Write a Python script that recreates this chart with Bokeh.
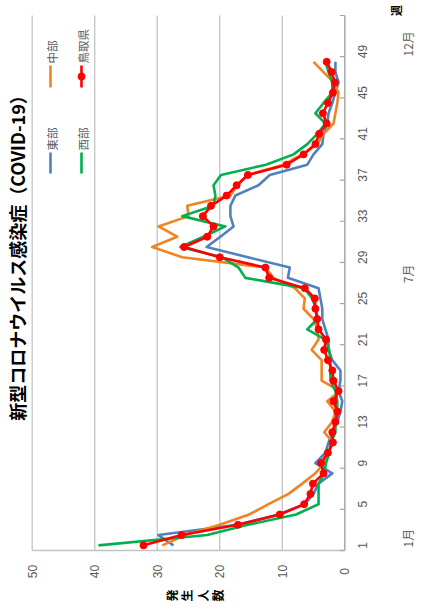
import math
from bokeh.plotting import figure
from bokeh.models import Range1d, Label, LabelSet, ColumnDataSource
from bokeh.embed import file_html
from bokeh.resources import INLINE
from bokeh.core.properties import value

# ---------------- data ----------------
weeks = list(range(1, 49))
east = [27.4, 29.8, 17.2, 10.6, 6.4, 5.0, 4.2, 2.0, 4.7, 3.1, 2.6, 2.0, 1.2, 0.7, 0.4, 1.0,
        0.7, 0.7, 2.0, 2.6, 2.6, 3.1, 3.6, 3.6, 3.9, 4.2, 9.1, 8.8, 15.5, 22.1, 19.9, 17.8,
        18.3, 18.3, 17.5, 13.8, 12.0, 6.0, 5.0, 3.6, 3.4, 2.8, 2.6, 2.0, 1.5, 1.0, 1.5, 1.5]
central = [29.2, 25.5, 20.0, 15.3, 12.2, 9.0, 6.8, 4.7, 3.3, 2.6, 1.9, 3.3, 2.0, 1.5, 2.8, 0.8,
           3.7, 3.7, 3.7, 5.3, 4.2, 4.4, 5.0, 6.6, 6.4, 8.0, 11.4, 12.7, 26.0, 30.8, 26.8, 29.8,
           25.0, 25.2, 18.3, 17.2, 15.5, 9.8, 6.8, 4.4, 3.4, 1.8, 1.5, 1.2, 1.0, 1.8, 3.4, 5.0]
west = [39.4, 22.0, 15.5, 7.8, 4.2, 4.2, 4.2, 3.3, 3.0, 2.5, 2.2, 1.5, 1.5, 1.2, 1.2, 1.5,
        2.3, 2.3, 2.3, 2.5, 3.1, 6.0, 4.4, 4.6, 5.2, 6.5, 15.9, 17.0, 19.6, 26.3, 22.6, 19.1,
        26.0, 21.0, 20.7, 21.0, 19.8, 12.6, 8.2, 6.0, 4.4, 3.1, 4.7, 3.4, 2.0, 2.0, 2.6, 3.1]
tottori = [32.2, 26.1, 17.1, 10.4, 6.5, 5.5, 5.1, 3.4, 3.8, 2.7, 1.9, 2.0, 1.5, 1.2, 1.8, 1.0,
           1.8, 2.0, 2.7, 3.3, 3.0, 4.2, 4.4, 4.7, 4.8, 6.4, 12.1, 12.7, 20.0, 25.7, 22.0, 21.0,
           22.7, 21.4, 18.9, 17.3, 15.5, 9.3, 6.6, 4.7, 4.1, 2.9, 3.5, 2.7, 1.9, 1.6, 2.1, 2.9]

series_names = ["東部", "中部", "西部", "鳥取県"]
series_colors = ["#4F81BD", "#F08425", "#00B050", "#FF0000"]

value_ticks = [0, 10, 20, 30, 40, 50]
week_ticks = [1, 5, 9, 13, 17, 21, 25, 29, 33, 37, 41, 45, 49]
week_boundaries = [0.5 + 4 * k for k in range(14)]
month_labels = ["1月", "7月", "12月"]
month_weeks = [1.7, 27.4, 49.75]

title_text = "新型コロナウイルス感染症（COVID-19）"
value_title = "発生人数"
week_title = "週"

# ---------------- layout helpers (canvas px -> data) ----------------
W, H = 420, 609
PX0, PX50 = 344.3, 31.7        # canvas x of value 0 and value 50
PY_LO, PY_HI = 550.0, 15.0     # canvas y of week 0.5 and week 52.5
V_MIN, V_MAX = 0, 50
WK_LO, WK_HI = 0.5, 52.5
def vx(px):
    return (PX0 - px) / (PX0 - PX50) * (V_MAX - V_MIN)
def wy(py):
    return WK_LO + (PY_LO - py) / (PY_LO - PY_HI) * (WK_HI - WK_LO)

TXT = "#595959"
JP = "Noto Sans CJK JP"
NUM = "Liberation Sans"
GRID = "#c4c4c4"
AXIS = "#a6a6a6"

p = figure(width=W, height=H, x_range=Range1d(vx(0), vx(W)), y_range=Range1d(wy(H), wy(0)),
           x_axis_location=None, y_axis_location=None, output_backend="svg",
           toolbar_location=None, min_border=0)
p.outline_line_color = None
p.background_fill_color = "white"
p.grid.visible = False

# grid lines and axes
n = len(value_ticks)
p.segment(x0=value_ticks, y0=[WK_LO] * n, x1=value_ticks, y1=[WK_HI] * n,
          line_color=GRID, line_width=1.3)
p.segment(x0=[V_MAX], y0=[WK_LO], x1=[V_MIN], y1=[WK_LO], line_color=GRID, line_width=1.3)
p.segment(x0=[V_MIN], y0=[WK_LO], x1=[V_MIN], y1=[WK_HI], line_color=AXIS, line_width=1.2)
m = len(week_boundaries)
p.segment(x0=[V_MIN] * m, y0=week_boundaries, x1=[vx(PX0 - 5)] * m, y1=week_boundaries,
          line_color=AXIS, line_width=1.2)

# series
data = [east, central, west, tottori]
for vals, col in zip(data, series_colors):
    p.line(vals, weeks, line_color=col, line_width=2.6, line_join="round")
p.scatter(tottori, weeks, size=7, fill_color=series_colors[3], line_color=series_colors[3])

# tick labels
src_v = ColumnDataSource(dict(x=value_ticks, y=[wy(571)] * n, t=[str(v) for v in value_ticks]))
p.add_layout(LabelSet(x="x", y="y", text="t", source=src_v, angle=math.pi / 2,
                      text_align="center", text_baseline="middle",
                      text_font=value(NUM), text_font_size="12px", text_color=TXT))
src_w = ColumnDataSource(dict(x=[vx(362)] * len(week_ticks), y=week_ticks,
                              t=[str(w) for w in week_ticks]))
p.add_layout(LabelSet(x="x", y="y", text="t", source=src_w, angle=math.pi / 2,
                      text_align="center", text_baseline="middle",
                      text_font=value(NUM), text_font_size="12px", text_color=TXT))
src_m = ColumnDataSource(dict(x=[vx(407)] * len(month_labels), y=month_weeks, t=month_labels))
p.add_layout(LabelSet(x="x", y="y", text="t", source=src_m, angle=math.pi / 2,
                      text_align="center", text_baseline="middle",
                      text_font=value(JP), text_font_size="12px", text_color=TXT))

# titles
p.add_layout(Label(x=vx(16), y=wy(253), text=title_text, angle=math.pi / 2,
                   text_align="center", text_baseline="middle", text_font=JP,
                   text_font_size="18px", text_font_style="bold", text_color="black"))
p.add_layout(Label(x=vx(395), y=wy(10), text=week_title, angle=math.pi / 2,
                   text_align="center", text_baseline="middle", text_font=JP,
                   text_font_size="11px", text_font_style="bold", text_color="black"))
# vertical (stacked) axis title, rotated with the chart
p.add_layout(Label(x=vx(194), y=wy(595), text="\n".join(value_title), angle=math.pi / 2,
                   text_align="center", text_baseline="middle", text_font=JP,
                   text_font_size="12px", text_font_style="bold", text_color="black",
                   text_line_height=0.9))

# legend (rotated, drawn manually)
leg_px = [50, 50, 81, 81]
leg_line_py = [(173, 152), (87, 65), (173, 152), (87, 65)]
for name, col, lx, (ly0, ly1) in zip(series_names, series_colors, leg_px, leg_line_py):
    p.line([vx(lx), vx(lx)], [wy(ly0), wy(ly1)], line_color=col, line_width=2.6)
    p.add_layout(Label(x=vx(lx + 1), y=wy(ly1 - 2), text=name, angle=math.pi / 2,
                       text_align="left", text_baseline="middle", text_font=JP,
                       text_font_size="11.5px", text_color=TXT))
p.scatter([vx(81)], [wy(76)], size=7, fill_color=series_colors[3], line_color=series_colors[3])

open("out.html", "w").write(file_html(p, INLINE))
